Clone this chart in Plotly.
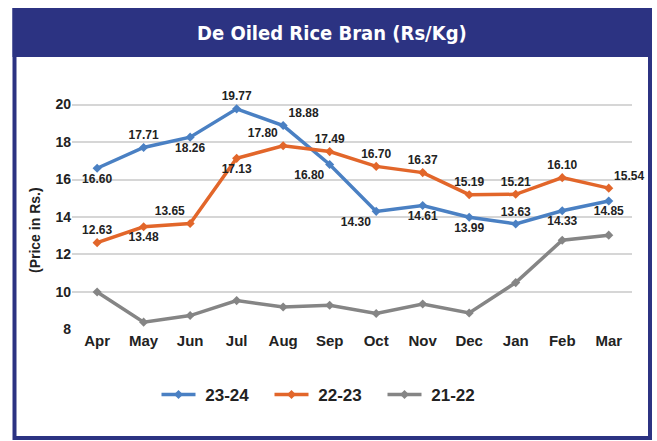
import plotly.graph_objects as go

months = ["Apr", "May", "Jun", "Jul", "Aug", "Sep", "Oct", "Nov", "Dec", "Jan", "Feb", "Mar"]
s2324 = [16.60, 17.71, 18.26, 19.77, 18.88, 16.80, 14.30, 14.61, 13.99, 13.63, 14.33, 14.85]
s2223 = [12.63, 13.48, 13.65, 17.13, 17.80, 17.49, 16.70, 16.37, 15.19, 15.21, 16.10, 15.54]
s2122 = [10.0, 8.39, 8.74, 9.54, 9.2, 9.29, 8.85, 9.36, 8.88, 10.5, 12.76, 13.03]
yticks = [8, 10, 12, 14, 16, 18, 20]

pos2324 = ["bottom center", "top center", "bottom center", "top center", "top right", "bottom left",
           "bottom left", "bottom center", "bottom center", "top center", "bottom center", "bottom center"]
pos2223 = ["top center", "bottom center", "top left", "bottom center", "top left", "top center",
           "top center", "top center", "top center", "top center", "top center", "top right"]

W, H = 657, 441
L, R, T, B = 72, 25, 86, 111
pw, ph = W - L - R, H - T - B


def px(x):
    return (x - L) / pw


def py(y):
    return (H - B - y) / ph


navy = "#2c3382"
lab_font = dict(family="Liberation Sans, Arial", size=12, color="#222222", weight="bold")

fig = go.Figure()
fig.add_trace(go.Scatter(x=months, y=s2324, name="\u00a023-24", mode="lines+markers+text",
                         line=dict(color="#4a80c3", width=3.5), marker=dict(symbol="diamond", size=7),
                         text=[f"{v:.2f}" for v in s2324], textposition=pos2324, textfont=lab_font,
                         cliponaxis=False))
fig.add_trace(go.Scatter(x=months, y=s2223, name="\u00a022-23", mode="lines+markers+text",
                         line=dict(color="#e2662a", width=3.5), marker=dict(symbol="diamond", size=7),
                         text=[f"{v:.2f}" for v in s2223], textposition=pos2223, textfont=lab_font,
                         cliponaxis=False))
fig.add_trace(go.Scatter(x=months, y=s2122, name="\u00a021-22", mode="lines+markers",
                         line=dict(color="#858585", width=3.5), marker=dict(symbol="diamond", size=7)))

fig.update_layout(
    width=W, height=H,
    margin=dict(l=L, r=R, t=T, b=B),
    paper_bgcolor="white", plot_bgcolor="white",
    showlegend=True,
    legend=dict(orientation="h", x=px(326), xanchor="center", y=py(395), yanchor="middle",
                font=dict(family="Liberation Sans, Arial", size=17, color="#222222", weight="bold"),
                entrywidth=64, itemwidth=34,
                bgcolor="rgba(0,0,0,0)"),
    xaxis=dict(type="category", range=[-0.54, 11.5], showgrid=False, zeroline=False, showline=False,
               ticks="", tickfont=dict(family="Liberation Sans, Arial", size=15, color="#222222", weight="bold")),
    yaxis=dict(range=[7.97, 20.99], tickvals=yticks, showgrid=True, gridcolor="#d6d6d6", gridwidth=1.5,
               zeroline=False, showline=False, ticks="",
               tickfont=dict(family="Liberation Sans, Arial", size=14, color="#222222", weight="bold")),
    shapes=[
        dict(type="rect", xref="paper", yref="paper", x0=px(12.5), x1=px(652), y0=py(57), y1=py(8),
             fillcolor=navy, line=dict(width=0), layer="below"),
        dict(type="rect", xref="paper", yref="paper", x0=px(14.5), x1=px(650), y0=py(438), y1=py(10),
             fillcolor="rgba(0,0,0,0)", line=dict(color=navy, width=4)),
    ],
    annotations=[
        dict(text="De Oiled Rice Bran (Rs/Kg)", xref="paper", yref="paper", x=px(332), y=py(33),
             xanchor="center", yanchor="middle", showarrow=False,
             font=dict(family="DejaVu Sans Condensed, DejaVu Sans", size=20, color="white", weight="bold")),
        dict(text="(Price in Rs.)", xref="paper", yref="paper", x=px(35), y=py(230),
             xanchor="center", yanchor="middle", showarrow=False, textangle=-90,
             font=dict(family="Liberation Sans, Arial", size=14, color="#222222", weight="bold")),
    ],
)

fig.write_html("out.html", config={"displayModeBar": False},
               post_script="document.body.style.margin='0';")
